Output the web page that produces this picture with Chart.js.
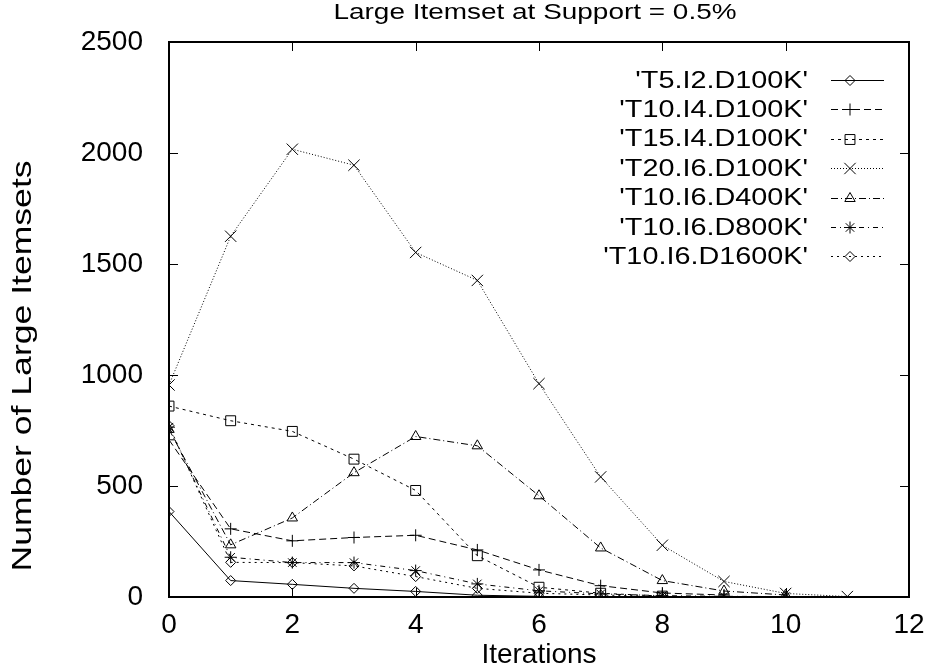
<!DOCTYPE html>
<html>
<head>
<meta charset="utf-8">
<script src="https://cdn.jsdelivr.net/npm/chart.js@4.4.1/dist/chart.umd.min.js"></script>
<style>
  html, body { margin: 0; padding: 0; background: #fff; }
  #wrap { width: 929px; height: 672px; }
</style>
</head>
<body>
<div id="wrap"><canvas id="myChart" width="929" height="672"></canvas></div>
<script>
var iterations = [0, 1, 2, 3, 4, 5, 6, 7, 8, 9, 10, 11]

var seriesLabels = ["'T5.I2.D100K'", "'T10.I4.D100K'", "'T15.I4.D100K'", "'T20.I6.D100K'",
                    "'T10.I6.D400K'", "'T10.I6.D800K'", "'T10.I6.D1600K'"]

var t5i2d100 = [385, 74, 57, 39, 25, 8, 3]
var t10i4d100 = [708, 307, 253, 268, 278, 212, 122, 51, 18, 9]
var t15i4d100 = [860, 794, 746, 621, 480, 186, 44, 17, 4]
var t20i6d100 = [955, 1625, 2017, 1945, 1552, 1426, 961, 541, 233, 70, 16, 2]
var t10i6d400 = [755, 235, 356, 560, 723, 681, 456, 221, 74, 27, 9]
var t10i6d800 = [765, 179, 155, 155, 119, 59, 28, 14, 6, 3, 2]
var t10i6d1600 = [772, 156, 155, 140, 92, 39, 17, 9, 3]

var xTicks = [0, 2, 4, 6, 8, 10, 12]
var yTicks = [0, 500, 1000, 1500, 2000, 2500]

var chartTitle = 'Large Itemset at Support = 0.5%'
var yTitle = 'Number of Large Itemsets'
var xTitle = 'Iterations'

var FONT = "'Liberation Sans', Arial, sans-serif"

function points(values) {
  return values.map((v, i) => ({ x: iterations[i], y: v }))
}

function series(label, values, dash, style, radius) {
  return {
    label: label,
    data: points(values),
    borderColor: '#000',
    backgroundColor: 'rgba(0,0,0,0)',
    borderWidth: 1,
    borderDash: dash,
    pointStyle: style,
    pointRadius: radius,
    pointBorderColor: '#000',
    pointBackgroundColor: 'rgba(0,0,0,0)',
    pointBorderWidth: 1,
    tension: 0
  }
}

// text drawn a little wider than the font, like the postscript original
function wideText(ctx, text, x, y, size, stretch, angle) {
  ctx.save()
  ctx.translate(x, y)
  ctx.rotate(angle)
  ctx.scale(stretch, 1)
  ctx.font = size + 'px ' + FONT
  ctx.textAlign = 'center'
  ctx.textBaseline = 'middle'
  ctx.fillStyle = '#000'
  ctx.fillText(text, 0, 0)
  ctx.restore()
}

// frame + inward ticks, gnuplot style
var framePlugin = {
  id: 'frame',
  afterDraw(chart) {
    var ctx = chart.ctx
    var a = chart.chartArea
    var xs = chart.scales.x, ys = chart.scales.y
    ctx.save()
    ctx.strokeStyle = '#000'
    ctx.lineWidth = 1
    xTicks.forEach(v => {
      var px = Math.round(xs.getPixelForValue(v)) + 0.5
      ctx.beginPath()
      ctx.moveTo(px, a.bottom); ctx.lineTo(px, a.bottom - 9)
      ctx.moveTo(px, a.top); ctx.lineTo(px, a.top + 9)
      ctx.stroke()
    })
    yTicks.forEach(v => {
      var py = Math.round(ys.getPixelForValue(v)) + 0.5
      ctx.beginPath()
      ctx.moveTo(a.left, py); ctx.lineTo(a.left + 9, py)
      ctx.moveTo(a.right, py); ctx.lineTo(a.right - 9, py)
      ctx.stroke()
    })
    ctx.lineWidth = 2
    ctx.strokeRect(a.left, a.top, a.right - a.left, a.bottom - a.top)
    ctx.restore()

    // title over the plot and the y axis label
    wideText(ctx, chartTitle, (a.left + a.right) / 2 - 4, 13, 22, 1.27, 0)
    wideText(ctx, yTitle, 23, 366, 28, 1.27, -Math.PI / 2)
  }
}

// key in the top right corner: text, then line sample with marker
var keyPlugin = {
  id: 'key',
  afterDraw(chart) {
    var ctx = chart.ctx
    chart.data.datasets.forEach((ds, i) => {
      var y = 80 + i * 29.4
      ctx.save()
      ctx.translate(808, y + 1)
      ctx.scale(1.2, 1)
      ctx.font = '24px ' + FONT
      ctx.textAlign = 'right'
      ctx.textBaseline = 'middle'
      ctx.fillStyle = '#000'
      ctx.fillText(ds.label, 0, 0)
      ctx.restore()

      ctx.save()
      var ly = Math.round(y) + 0.5
      ctx.strokeStyle = '#000'
      ctx.lineWidth = 1
      ctx.setLineDash(ds.borderDash)
      ctx.beginPath()
      ctx.moveTo(831, ly)
      ctx.lineTo(884, ly)
      ctx.stroke()
      ctx.setLineDash([])
      ctx.fillStyle = 'rgba(0,0,0,0)'
      Chart.helpers.drawPoint(ctx, {
        pointStyle: ds.pointStyle,
        radius: ds.pointRadius,
        borderWidth: 1
      }, 850, ly)
      ctx.restore()
    })
  }
}

var ctx = document.getElementById('myChart').getContext('2d')
var myChart = new Chart(ctx, {
  type: 'line',
  data: {
    datasets: [
      series(seriesLabels[0], t5i2d100, [], 'rectRot', 5),
      series(seriesLabels[1], t10i4d100, [7, 4], 'cross', 6),
      series(seriesLabels[2], t15i4d100, [3, 4], 'rect', 7),
      series(seriesLabels[3], t20i6d100, [1, 2], 'crossRot', 8),
      series(seriesLabels[4], t10i6d400, [7, 3, 1, 3], 'triangle', 6),
      series(seriesLabels[5], t10i6d800, [5, 4, 1, 4], 'star', 6),
      series(seriesLabels[6], t10i6d1600, [2, 4], 'rectRot', 5)
    ]
  },
  options: {
    responsive: false,
    animation: false,
    layout: { padding: { left: 0, right: 20, top: 42, bottom: 0 } },
    plugins: {
      legend: { display: false },
      tooltip: { enabled: false },
      title: { display: false }
    },
    scales: {
      x: {
        type: 'linear',
        min: 0,
        max: 12,
        afterFit: s => { s.height = 75 },
        afterBuildTicks: s => { s.ticks = xTicks.map(v => ({ value: v })) },
        grid: { display: false },
        border: { display: false },
        ticks: { color: '#000', padding: 3, maxRotation: 0, callback: v => String(v),
                 font: { family: FONT, size: 28 } },
        title: {
          display: true,
          text: xTitle,
          color: '#000',
          font: { family: FONT, size: 28, lineHeight: 1.2 },
          padding: { top: 0, bottom: 0 }
        }
      },
      y: {
        min: 0,
        max: 2500,
        afterFit: s => { s.width = 169 },
        afterBuildTicks: s => { s.ticks = yTicks.map(v => ({ value: v })) },
        grid: { display: false },
        border: { display: false },
        ticks: { color: '#000', padding: 18, callback: v => String(v),
                 font: { family: FONT, size: 28 } },
        title: { display: false }
      }
    }
  },
  plugins: [framePlugin, keyPlugin]
})
</script>
</body>
</html>
